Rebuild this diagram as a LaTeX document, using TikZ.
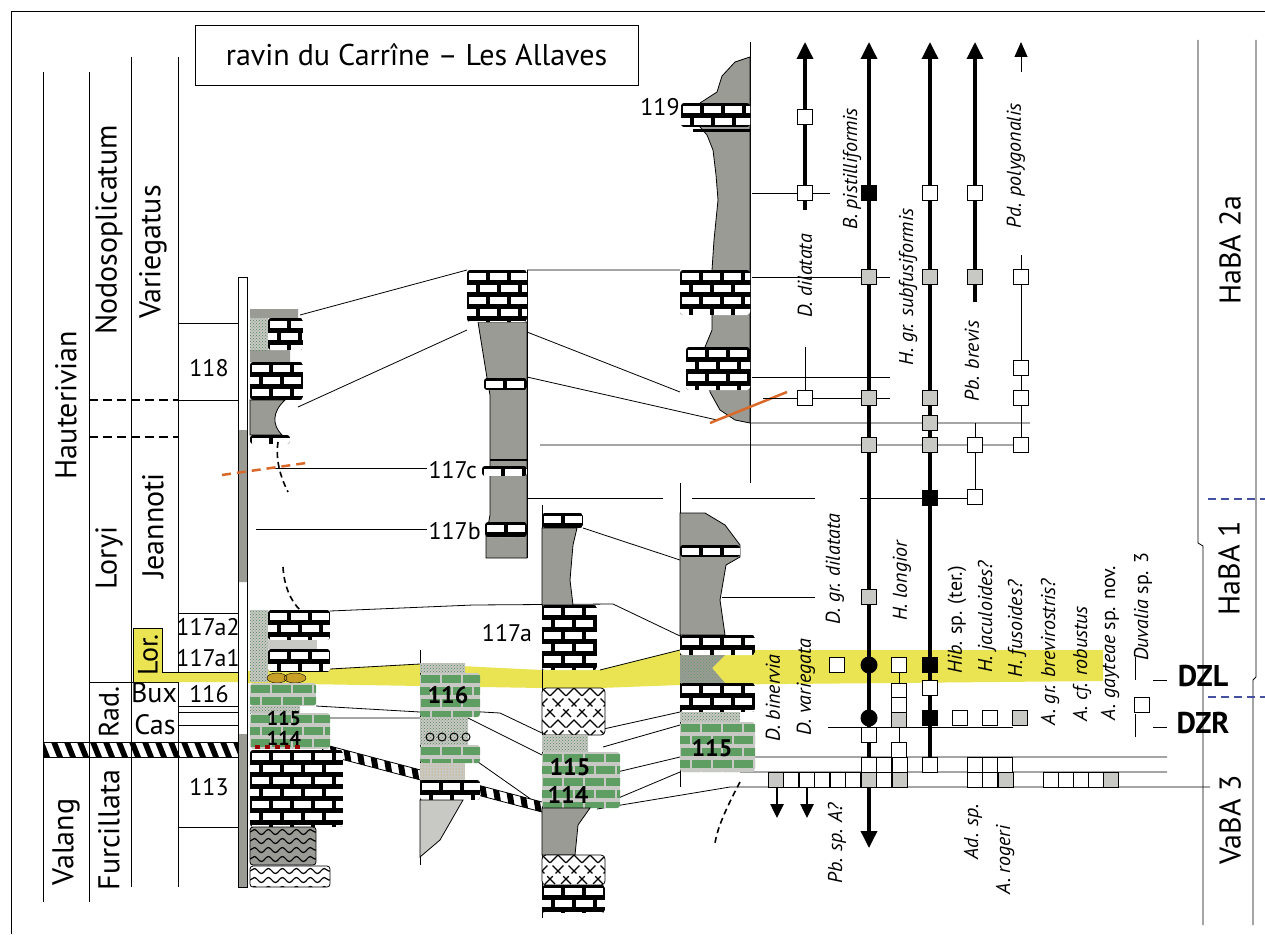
\documentclass[tikz,border=0pt]{standalone}
\usepackage{fontspec}
\setmainfont{PT Sans}
\usetikzlibrary{arrows.meta,patterns,decorations.pathmorphing}
\definecolor{marl}{RGB}{155,155,150}
\definecolor{lmarl}{RGB}{200,200,196}
\definecolor{lgreen}{RGB}{94,158,99}
\definecolor{dzl}{RGB}{234,228,82}
\definecolor{fault}{RGB}{217,105,40}
\definecolor{bluedash}{RGB}{70,80,160}
\definecolor{ochre}{RGB}{200,160,40}
\tikzset{thinline/.style={line width=0.8pt},
	 taxon/.style={line width=3.5pt},
	 tip/.style={-{Triangle[width=16pt,length=17pt]}},
	 wsq/.style={draw,thinline,fill=white,minimum size=15pt,inner sep=0pt},
	 gsq/.style={wsq,fill=lmarl},
	 bsq/.style={wsq,fill=black},
	 bdot/.style={circle,fill=black,minimum size=17pt,inner sep=0pt},
	 sp/.style={rotate=90,font=\fontsize{20}{20}\selectfont\itshape},
	 zone/.style={rotate=90,font=\fontsize{30}{30}\selectfont},
	 stage/.style={rotate=90,font=\fontsize{30}{30}\selectfont},
	 bednum/.style={font=\fontsize{24}{24}\selectfont},
	 bedbold/.style={font=\fontsize{24}{24}\selectfont\bfseries},
	 dz/.style={font=\fontsize{30}{30}\selectfont\bfseries}
	 }
% limestone beds: mortar, brick, gap, x1, y1, x2, y2
\newcommand{\bricks}[7]{%
  \begin{scope}
    \clip[rounded corners=3pt] (#4,#5) rectangle (#6,#7);
    \fill[#1] (#4,#5) rectangle (#6,#7);
    \pgfmathtruncatemacro{\nrows}{(#7-#5)/12}
    \pgfmathtruncatemacro{\ncols}{(#6-#4)/21+1}
    \foreach \r in {0,...,\nrows}{
      \foreach \c in {0,...,\ncols}{
        \fill[#2] ({#4+\c*21-mod(\r,2)*10+#3},{#5+\r*12+#3+0.5}) rectangle ++(21-2*#3,11-2*#3);
      }}
  \end{scope}}
\newcommand{\limebed}[4]{\bricks{black}{white}{2}{#1}{#2}{#3}{#4}}
\newcommand{\greenbed}[4]{\bricks{lmarl}{lgreen}{1.2}{#1}{#2}{#3}{#4}}
\newcommand{\dotbed}[4]{\fill[lmarl] (#1,#2) rectangle (#3,#4);
  \fill[pattern=crosshatch dots,pattern color=lgreen!85!black] (#1,#2) rectangle (#3,#4);}
\newcommand{\wavybed}[5]{%
  \begin{scope}
    \clip[rounded corners=3pt] (#2,#3) rectangle (#4,#5);
    \fill[#1] (#2,#3) rectangle (#4,#5);
    \foreach \k in {0,...,4}
      \draw[line width=1.2pt,decorate,decoration={snake,amplitude=2.5pt,segment length=14pt}] (#2,#3+5+\k*9) -- (#4,#3+5+\k*9);
  \end{scope}
  \draw[thinline,rounded corners=3pt] (#2,#3) rectangle (#4,#5);}
\newcommand{\chertbed}[4]{%
  \begin{scope}
    \clip[rounded corners=4pt] (#1,#2) rectangle (#3,#4);
    \fill[white] (#1,#2) rectangle (#3,#4);
    \foreach \k in {-4,...,9}{
      \draw[line width=1.2pt,dash pattern=on 11pt off 4pt] (#1+\k*16,#2) -- ++(50,50);
      \draw[line width=1.2pt,dash pattern=on 11pt off 4pt] (#1+\k*16,#2) -- ++(-50,50);}
  \end{scope}
  \draw[thinline,rounded corners=4pt] (#1,#2) rectangle (#3,#4);}

\begin{document}
\begin{tikzpicture}[x=1pt,y=-1pt] % ravin du Carrine section, y counted downwards
	\useasboundingbox (0,0) rectangle (1265,934);
	\draw[thinline] (11,934) -- (11,11) -- (1265,11);
	\node[draw,thinline,minimum width=443pt,minimum height=60pt,font=\fontsize{30}{30}\selectfont] (title) at (416.5,55) {ravin du Carrîne – Les Allaves};

	% zone columns
	\draw[thinline] (43,72) -- (43,902) (89,72) -- (89,902) (131,57) -- (131,887) (178,57) -- (178,887);
	\draw[thinline] (178,323) -- (238,323) (178,400) -- (238,400) (178,613) -- (238,613) (89,682) -- (178,682)
	  (178,706) -- (238,706) (178,712) -- (238,712) (178,725) -- (238,725) (178,827) -- (238,827);
	\draw[line width=2.5pt,dash pattern=on 9pt off 5pt] (89,400) -- (178,400) (89,437) -- (178,437);
	\fill[dzl] (133,628) rectangle (162,682) (162,672) rectangle (238,682);
	\draw[thinline] (133,682) -- (133,628) -- (162,628) -- (162,672) -- (238,672);
	\begin{scope}
	  \clip (43,742) rectangle (238,757);
	  \foreach \k in {0,...,15} \fill (38+\k*13,742) -- ++(6,0) -- ++(6,15) -- ++(-6,0) -- cycle;
	\end{scope}
	\draw[thinline] (43,742) rectangle (238,757);
	\node[zone] (haut) at (66,405) {Hauterivian};
	\node[zone] (nodo) at (109,230) {Nodosoplicatum};
	\node[zone] (varie) at (153,252) {Variegatus};
	\node[zone] (loryi) at (109,558) {Loryi};
	\node[zone] (jean) at (153,526) {Jeannoti};
	\node[zone,font=\fontsize{28}{28}\selectfont] (lor) at (148,655) {Lor.};
	\node[zone,font=\fontsize{28}{28}\selectfont] (rad) at (109,712) {Rad.};
	\node[font=\fontsize{28}{28}\selectfont] (bux) at (154,693) {Bux};
	\node[font=\fontsize{28}{28}\selectfont] (cas) at (155,725) {Cas};
	\node[zone] (valang) at (66,842) {Valang};
	\node[zone] (furc) at (109,830) {Furcillata};
	\node[bednum] (b118) at (209,368) {118};
	\node[bednum] (b117a2) at (208,627) {117a2};
	\node[bednum] (b117a1) at (208,658) {117a1};
	\node[bednum] (b116) at (209,694) {116};
	\node[bednum] (b113) at (209,787) {113};

	% DZL horizon and correlations
	\fill[dzl] (247,671) -- (330,669) -- (420,664) -- (542,670) -- (600,670) -- (680,650) -- (1103,650) -- (1103,681)
	  -- (680,685) -- (600,688) -- (542,688) -- (420,686) -- (247,683) -- cycle;
	\draw[thinline] (330,669) -- (420,664) (600,670) -- (680,650);
	\draw[thinline] (300,315) -- (467,270) (298,407) -- (467,330) (527,270) -- (680,270) (527,332) -- (680,392)
	  (527,377) -- (717,420) (540,445) -- (1021,445) (750,423) -- (1030,423) (583,528) -- (680,560);
	\draw[thinline] (330,611) -- (473,605) -- (613,604) -- (680,636);
	\draw[thinline] (527,498) -- (663,498) (692,498) -- (815,498) (860,498) -- (975,498) (722,597) -- (815,597);
	\draw[thinline] (316,706) -- (420,712) (330,718) -- (420,718) (465,711) -- (500,713) -- (542,733) (468,718) -- (542,755)
	  (478,762) -- (542,807) (590,732) -- (680,712) (603,747) -- (680,725) (617,772) -- (680,757)
	  (597,807) -- (680,772) (597,809) -- (730,787) -- (1210,787) (755,757) -- (1167,757) (740,772) -- (1167,772);
	\draw[thinline] (270,468) -- (427,468) (256,529) -- (427,529);
	\node[bednum,anchor=west] (b117c) at (425,470) {117c};
	\node[bednum,anchor=west] (b117b) at (425,531) {117b};
	\begin{scope}
	  \clip (322,744) -- (542,802) -- (542,812) -- (322,754) -- cycle;
	  \fill[white] (322,744) -- (542,802) -- (542,812) -- (322,754) -- cycle;
	  \foreach \k in {0,...,18} \fill (315+\k*13,735) -- ++(6,0) -- ++(14,85) -- ++(-6,0) -- cycle;
	\end{scope}
	\draw[thinline] (322,744) -- (542,802) (322,754) -- (542,812);

	% column A
	\draw[thinline,fill=white] (238,277) rectangle (247,887);
	\fill[marl] (238,430) rectangle (247,582) (238,734) rectangle (247,887);
	\draw[thinline] (238,277) rectangle (247,887);
	\fill[marl] (250,309) rectangle (298,318) (250,350) rectangle (290,362);
	\dotbed{250}{318}{268}{350}
	\limebed{268}{318}{303}{350}
	\limebed{250}{362}{303}{400}
	\fill[marl,draw=black,thinline] (250,400) -- (285,400) .. controls (272,412) and (272,425) .. (282,435) -- (250,435) -- cycle;
	\limebed{250}{435}{290}{444}
	\dotbed{250}{610}{268}{682}
	\limebed{268}{610}{330}{640}
	\fill[lmarl] (268,640) rectangle (317,649);
	\limebed{268}{649}{330}{672}
	\fill[ochre,draw=black,thin] (277,678) ellipse (10 and 5) (295,678) ellipse (11 and 5);
	\greenbed{250}{683}{316}{706}
	\dotbed{250}{706}{300}{713}
	\greenbed{250}{713}{330}{749}
	\foreach \x in {255,265,...,295} \fill[red!60!black] (\x,745) rectangle ++(5,4);
	\node[bedbold,font=\fontsize{20}{20}\selectfont\bfseries] (n115a) at (284,719) {115};
	\node[bedbold,font=\fontsize{20}{20}\selectfont\bfseries] (n114a) at (284,738) {114};
	\limebed{250}{750}{343}{827}
	\wavybed{marl}{250}{827}{316}{865}
	\wavybed{white}{250}{866}{330}{887}
	\draw[fault,line width=2.5pt,dash pattern=on 9pt off 6pt] (222,475) -- (306,463);
	\draw[line width=1.6pt,dash pattern=on 6pt off 4pt] (278,442) .. controls (275,462) and (282,480) .. (288,492);
	\draw[line width=1.6pt,dash pattern=on 6pt off 4pt] (283,567) .. controls (284,585) and (290,600) .. (300,610);

	% column B
	\fill[marl,draw=black,thinline] (478,322) -- (487,378) -- (490,395) -- (490,515) -- (486,537) -- (486,558) -- (527,558) -- (527,322) -- cycle;
	\limebed{467}{270}{527}{322}
	\limebed{484}{378}{527}{390}
	\draw[line width=2pt] (490,460) -- (527,460);
	\limebed{482}{466}{527}{476}
	\limebed{485}{522}{527}{537}
	\draw[thinline] (527,270) -- (527,558);

	% column C
	\draw[thinline] (420,650) -- (420,865);
	\dotbed{420}{663}{465}{673}
	\greenbed{420}{673}{480}{717}
	\node[bedbold] (n116c) at (448,695) {116};
	\dotbed{420}{717}{468}{745}
	\foreach \x in {430,442,...,466} \draw[line width=1pt] (\x,737) circle (4);
	\greenbed{420}{745}{480}{763}
	\fill[lmarl] (420,763) rectangle (465,780);
	\fill[pattern=dots,pattern color=ochre] (420,763) rectangle (465,780);
	\limebed{420}{780}{480}{800}
	\fill[lmarl,draw=black,thinline] (420,800) -- (463,800) -- (440,840) -- (420,857) -- cycle;

	% column D
	\draw[thinline] (542,505) -- (542,918);
	\limebed{542}{513}{583}{528}
	\fill[marl,draw=black,thinline] (542,528) -- (577,528) -- (573,545) -- (570,580) -- (573,605) -- (542,605) -- cycle;
	\limebed{542}{605}{597}{670}
	\node[bednum] (b117a) at (507,633) {117a};
	\chertbed{542}{688}{605}{735}
	\dotbed{542}{735}{588}{752}
	\greenbed{542}{752}{620}{808}
	\node[bedbold] (n115d) at (570,767) {115};
	\node[bedbold] (n114d) at (568,795) {114};
	\fill[marl,draw=black,thinline] (542,808) -- (590,808) -- (578,825) -- (575,855) -- (542,855) -- cycle;
	\chertbed{542}{855}{605}{885}
	\limebed{542}{885}{605}{913}

	% column E
	\draw[thinline] (680,483) -- (680,787);
	\fill[marl,draw=black,thinline] (680,513) -- (705,513) -- (725,525) -- (740,545) -- (740,557) -- (726,565) -- (720,600) -- (725,635) -- (680,635) -- cycle;
	\limebed{680}{545}{740}{557}
	\limebed{680}{635}{755}{655}
	\fill[marl] (680,655) -- (725,655) -- (712,668) -- (725,683) -- (680,683) -- cycle;
	\fill[pattern=crosshatch dots,pattern color=lgreen] (680,655) -- (725,655) -- (712,668) -- (725,683) -- (680,683) -- cycle;
	\limebed{680}{683}{755}{712}
	\dotbed{680}{712}{740}{722}
	\greenbed{680}{722}{755}{772}
	\node[bedbold] (n115e) at (712,748) {115};
	\draw[line width=1.6pt,dash pattern=on 6pt off 4pt] (740,782) .. controls (728,805) and (718,825) .. (715,843);

	% column F
	\draw[thinline] (750,42) -- (750,483);
	\fill[marl,draw=black,thinline] (750,57) -- (735,62) -- (722,76) -- (717,92) -- (700,103) -- (700,127) -- (707,135) -- (713,150)
	  -- (716,175) -- (718,200) -- (714,240) -- (712,270) -- (712,330) -- (705,347) -- (710,392) -- (720,410) -- (735,420) -- (750,423) -- cycle;
	\limebed{681}{103}{750}{127}
	\draw[line width=3pt] (693,130) -- (750,130);
	\limebed{680}{270}{750}{315}
	\limebed{686}{347}{750}{390}
	\node[bednum] (b119) at (660,107) {119};
	\draw[fault,line width=2.5pt] (710,423) -- (787,392);

	% range chart
	\draw[thinline] (752,193) -- (830,193) (752,277) -- (890,277) (752,377) -- (890,377) (763,398) -- (890,398);
	\draw[taxon,tip] (805,210) -- (805,42);
	\draw[thinline] (805,347) -- (805,398);
	\draw[taxon,{Triangle[width=16pt,length=17pt]}-{Triangle[width=16pt,length=17pt]}] (869,848) -- (869,42);
	\draw[taxon,tip] (930,757) -- (930,42);
	\draw[taxon,tip] (975,302) -- (975,42);
	\draw[thinline] (975,423) -- (975,497);
	\draw[thinline,-{Triangle[width=13pt,length=15pt]}] (1021,72) -- (1021,42);
	\draw[thinline] (1021,255) -- (1021,445);
	\draw[thinline] (899,665) -- (899,757) (828,727) -- (1013,727);
	\draw[line width=2.5pt,-{Triangle[width=13pt,length=14pt]}] (777,787) -- (777,818);
	\draw[line width=2.5pt,-{Triangle[width=13pt,length=14pt]}] (807,787) -- (807,818);
	\foreach \y in {117,193,398} \node[wsq] (dil-\y) at (805,\y) {};
	\node[bsq] (pis-193) at (869,193) {};
	\foreach \y in {277,398,445,597} \node[gsq] (pis-\y) at (869,\y) {};
	\foreach \y in {665,718} \node[bdot] (pis-\y) at (869,\y) {};
	\node[wsq] (pis-735) at (869,735) {};
	\node[wsq] (sub-193) at (930,193) {};
	\foreach \y in {277,398,423,445} \node[gsq] (sub-\y) at (930,\y) {};
	\foreach \y in {498,665,718} \node[bsq] (sub-\y) at (930,\y) {};
	\node[wsq] (sub-688) at (930,688) {};
	\foreach \y in {193,445,497} \node[wsq] (bre-\y) at (975,\y) {};
	\node[gsq] (bre-277) at (975,277) {};
	\foreach \y in {277,368,398,445} \node[wsq] (pol-\y) at (1021,\y) {};
	\node[wsq] (gdil-665) at (837,665) {};
	\foreach \y in {665,690.5,705,750} \node[wsq] (lon-\y) at (899,\y) {};
	\node[gsq] (lon-719) at (899,719.5) {};
	\foreach \x in {960,990} \node[wsq] (dzr-\x) at (\x,718) {};
	\node[gsq] (dzr-1020) at (1020,718) {};
	\node[wsq] (duv) at (1142,705) {};
	\foreach \x in {861,876,892,922,967,982,997} \node[wsq,anchor=north west] (ra-\x) at (\x,757) {};
	\foreach \x in {783,799,814,830,845,876,967,982,1043,1058,1073,1088} \node[wsq,anchor=north west] (rb-\x) at (\x,772) {};
	\foreach \x in {768,861,892,998,1103} \node[gsq,anchor=north west] (rb-\x) at (\x,772) {};
	\draw[thinline] (1135,657) -- (1135,680) (1135,714) -- (1135,737) (1153,680) -- (1167,680) (1153,727) -- (1167,727);

	% taxa
	\node[sp] (dil) at (805,276) {D. dilatata};
	\node[sp] (pis) at (852,169) {B. pistilliformis};
	\node[sp] (sub) at (908,287) {H. gr. subfusiformis};
	\node[sp] (bre) at (972,361) {Pb. brevis};
	\node[sp] (pol) at (1016,166) {Pd. polygonalis};
	\node[sp] (bin) at (773,698) {D. binervia};
	\node[sp] (var) at (806,687) {D. variegata};
	\node[sp] (gdil) at (835,569) {D. gr. dilatata};
	\node[sp] (lon) at (902,581) {H. longior};
	\node[sp] (hib) at (957,620) {Hib. \upshape sp. (ter.)};
	\node[sp] (jac) at (987,617) {H. jaculoides?};
	\node[sp] (fus) at (1017,629) {H. fusoides?};
	\node[sp] (brv) at (1050,652) {A. gr. brevirostris?};
	\node[sp] (rob) at (1082,664) {A. cf. robustus};
	\node[sp] (gay) at (1110,643) {A. gayteae \upshape sp. nov.};
	\node[sp] (duvl) at (1143,607) {Duvalia \upshape sp. 3};
	\node[sp] (pbA) at (837,843) {Pb. sp. A?};
	\node[sp] (ad) at (973,832) {Ad. sp.};
	\node[sp] (rog) at (1005,860) {A. rogeri};
	\node[dz] (dzl) at (1203,676) {DZL};
	\node[dz] (dzr) at (1203,723) {DZR};

	% bioevent zones
	\draw[thinline] (1198,40) -- (1198,543) -- (1203,546) -- (1203,925) (1256,40) -- (1256,677) -- (1253,680) -- (1253,925);
	\draw[bluedash,line width=1.5pt,dash pattern=on 8pt off 5pt] (1208,499) -- (1265,499) (1208,697) -- (1265,697);
	\node[stage] (haba2) at (1230,250) {HaBA 2a};
	\node[stage] (haba1) at (1229,568) {HaBA 1};
	\node[stage] (vaba3) at (1230,820) {VaBA 3};
\end{tikzpicture}
\end{document}
